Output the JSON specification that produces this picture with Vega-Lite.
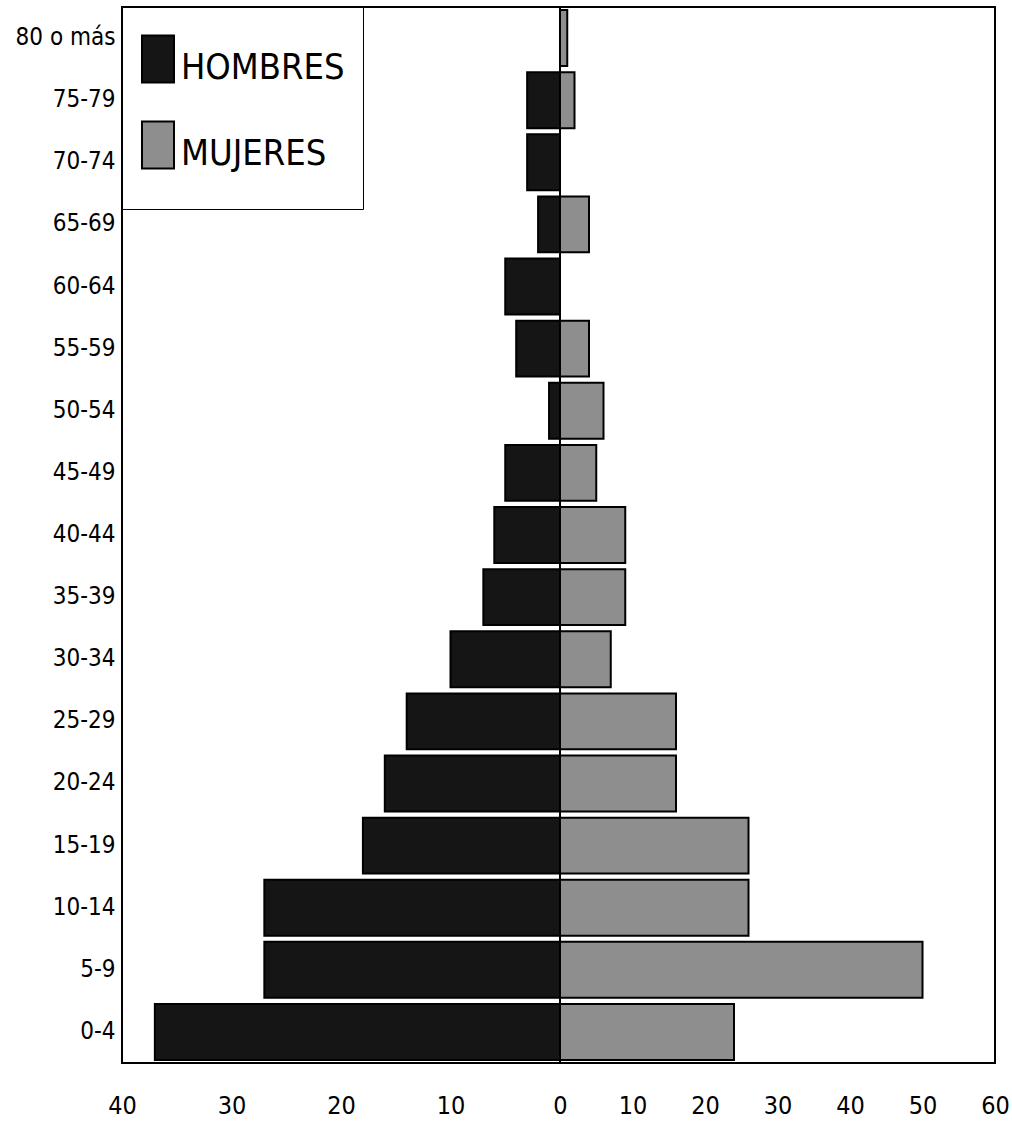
{
  "$schema": "https://vega.github.io/schema/vega-lite/v6.json",
  "autosize": {"type": "none"},
  "padding": {"left": 122, "top": 7, "right": 17, "bottom": 61},
  "width": 873,
  "height": 1056,
  "background": "white",
  "data": {
    "values": [
      {"edad": "80 o más", "sexo": "HOMBRES", "valor": 0},
      {"edad": "80 o más", "sexo": "MUJERES", "valor": 1},
      {"edad": "75-79", "sexo": "HOMBRES", "valor": -3},
      {"edad": "75-79", "sexo": "MUJERES", "valor": 2},
      {"edad": "70-74", "sexo": "HOMBRES", "valor": -3},
      {"edad": "70-74", "sexo": "MUJERES", "valor": 0},
      {"edad": "65-69", "sexo": "HOMBRES", "valor": -2},
      {"edad": "65-69", "sexo": "MUJERES", "valor": 4},
      {"edad": "60-64", "sexo": "HOMBRES", "valor": -5},
      {"edad": "60-64", "sexo": "MUJERES", "valor": 0},
      {"edad": "55-59", "sexo": "HOMBRES", "valor": -4},
      {"edad": "55-59", "sexo": "MUJERES", "valor": 4},
      {"edad": "50-54", "sexo": "HOMBRES", "valor": -1},
      {"edad": "50-54", "sexo": "MUJERES", "valor": 6},
      {"edad": "45-49", "sexo": "HOMBRES", "valor": -5},
      {"edad": "45-49", "sexo": "MUJERES", "valor": 5},
      {"edad": "40-44", "sexo": "HOMBRES", "valor": -6},
      {"edad": "40-44", "sexo": "MUJERES", "valor": 9},
      {"edad": "35-39", "sexo": "HOMBRES", "valor": -7},
      {"edad": "35-39", "sexo": "MUJERES", "valor": 9},
      {"edad": "30-34", "sexo": "HOMBRES", "valor": -10},
      {"edad": "30-34", "sexo": "MUJERES", "valor": 7},
      {"edad": "25-29", "sexo": "HOMBRES", "valor": -14},
      {"edad": "25-29", "sexo": "MUJERES", "valor": 16},
      {"edad": "20-24", "sexo": "HOMBRES", "valor": -16},
      {"edad": "20-24", "sexo": "MUJERES", "valor": 16},
      {"edad": "15-19", "sexo": "HOMBRES", "valor": -18},
      {"edad": "15-19", "sexo": "MUJERES", "valor": 26},
      {"edad": "10-14", "sexo": "HOMBRES", "valor": -27},
      {"edad": "10-14", "sexo": "MUJERES", "valor": 26},
      {"edad": "5-9", "sexo": "HOMBRES", "valor": -27},
      {"edad": "5-9", "sexo": "MUJERES", "valor": 50},
      {"edad": "0-4", "sexo": "HOMBRES", "valor": -37},
      {"edad": "0-4", "sexo": "MUJERES", "valor": 24}
    ]
  },
  "layer": [
    {
      "mark": {"type": "bar", "stroke": "black", "strokeWidth": 2},
      "encoding": {
        "y": {
          "field": "edad",
          "type": "nominal",
          "sort": ["80 o más", "75-79", "70-74", "65-69", "60-64", "55-59", "50-54", "45-49", "40-44", "35-39", "30-34", "25-29", "20-24", "15-19", "10-14", "5-9", "0-4"],
          "scale": {"paddingInner": 0.1, "paddingOuter": 0.05},
          "axis": {"title": null, "labelFontSize": 24, "labelPadding": 7, "labelFont": "DejaVu Sans Condensed, DejaVu Sans", "labelColor": "black", "ticks": false, "domain": false, "labelLimit": 200}
        },
        "x": {
          "field": "valor",
          "type": "quantitative",
          "scale": {"domain": [-40, 0, 60], "range": [0, 438, 873], "nice": false, "zero": false},
          "axis": {"title": null, "values": [-40, -30, -20, -10, 0, 10, 20, 30, 40, 50, 60], "labelExpr": "abs(datum.value)", "labelFontSize": 25, "labelFont": "DejaVu Sans Condensed, DejaVu Sans", "labelColor": "black", "labelPadding": 30, "labelFlush": false, "labelOverlap": false, "ticks": false, "domain": false, "grid": false}
        },
        "fill": {
          "field": "sexo",
          "type": "nominal",
          "scale": {"domain": ["HOMBRES", "MUJERES"], "range": ["#151515", "#8e8e8e"]},
          "legend": {
            "title": " ",
            "titleFontSize": 1,
            "titlePadding": 24,
            "orient": "top-left",
            "offset": 0,
            "padding": 18,
            "strokeColor": "black",
            "fillColor": "white",
            "symbolType": "M0,2.03M-1,-2.03L1,-2.03L1,0.91L-1,0.91Z",
            "symbolSize": 1024,
            "symbolStrokeColor": "black",
            "symbolStrokeWidth": 2,
            "labelFontSize": 36,
            "labelFont": "DejaVu Sans Condensed, DejaVu Sans",
            "labelColor": "black",
            "labelOffset": 5,
            "labelLimit": 400,
            "rowPadding": 12
          }
        }
      }
    },
    {
      "mark": {"type": "rule", "color": "black", "strokeWidth": 2},
      "encoding": {"x": {"datum": 0}}
    }
  ],
  "config": {
    "view": {"stroke": "black", "strokeWidth": 2},
    "axis": {"grid": false}
  }
}
